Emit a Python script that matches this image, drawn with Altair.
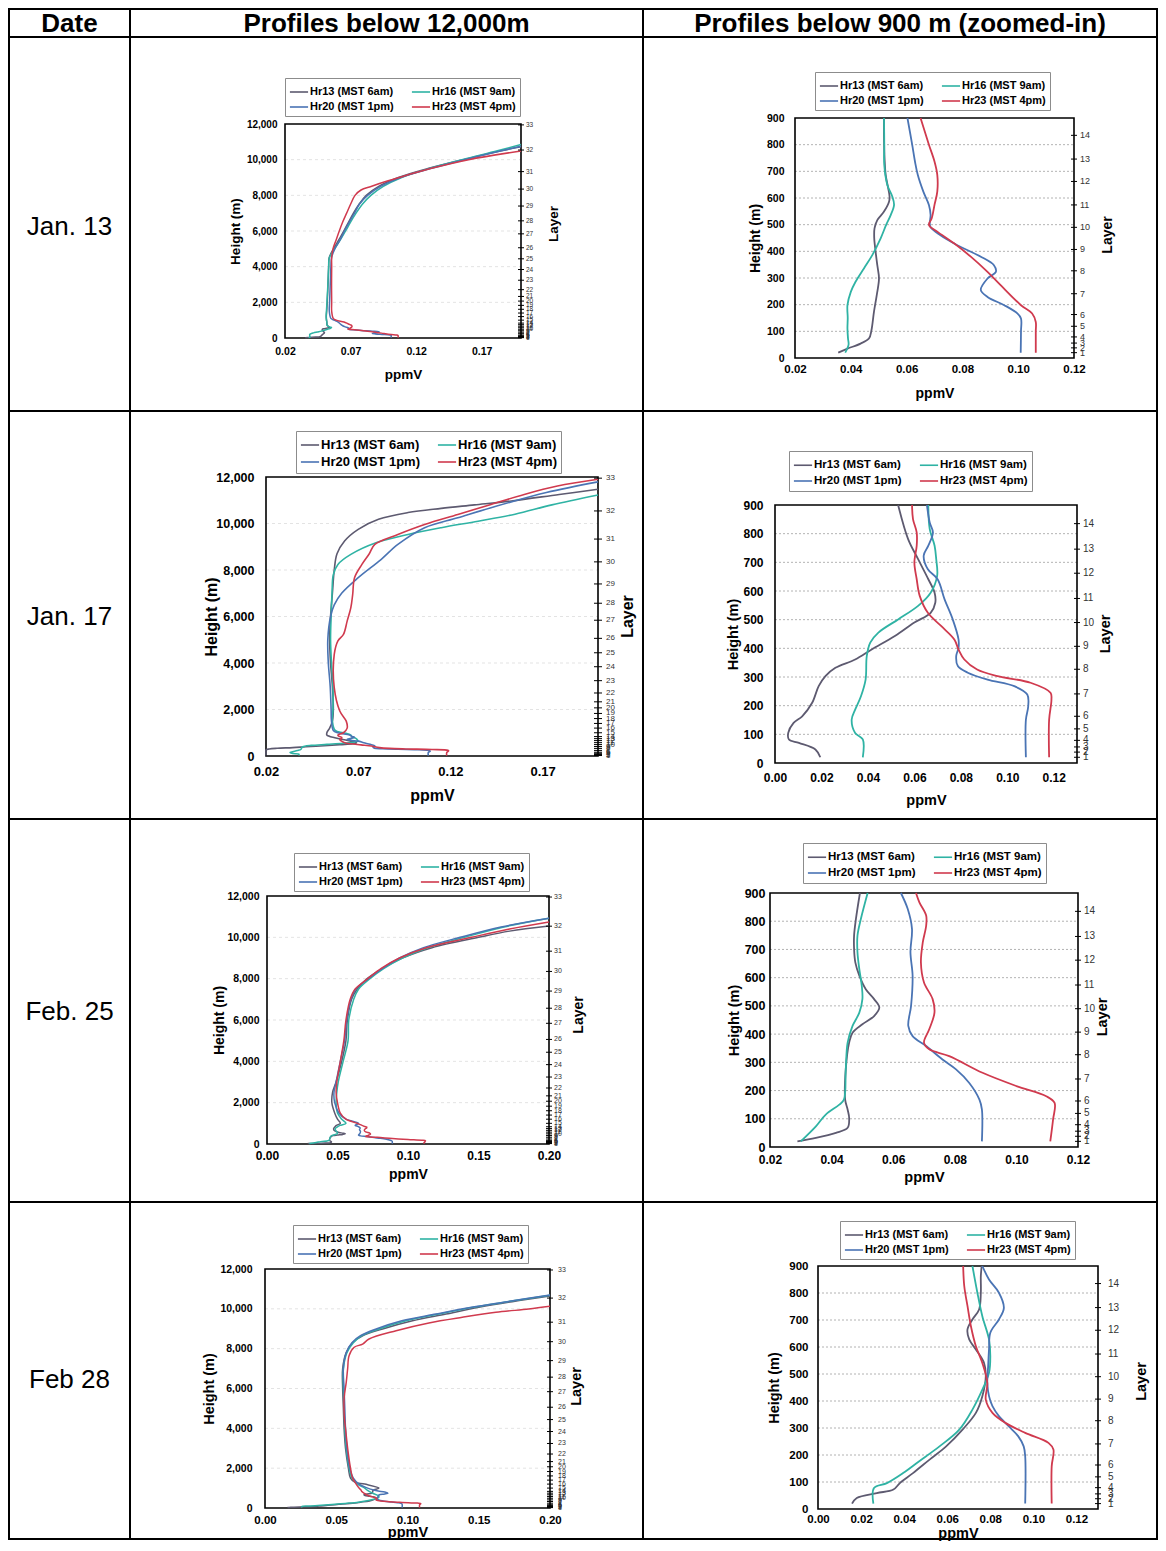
import altair as alt
import pandas as pd

FONT = "Liberation Sans"

SERIES = ["Hr13 (MST 6am)", "Hr16 (MST 9am)", "Hr20 (MST 1pm)", "Hr23 (MST 4pm)"]
COLORS = ["#5d5a70", "#2fb3a4", "#4a74b4", "#d03a4e"]

HEADERS = ["Date", "Profiles below 12,000m", "Profiles below 900 m (zoomed-in)"]
DATES = ["Jan. 13", "Jan. 17", "Feb. 25", "Feb 28"]

LEFT_Y_TICKS = [0, 2000, 4000, 6000, 8000, 10000, 12000]
LEFT_GRID = [2000, 4000, 6000, 8000, 10000]
RIGHT_Y_TICKS = [0, 100, 200, 300, 400, 500, 600, 700, 800, 900]
RIGHT_GRID = [100, 200, 300, 400, 500, 600, 700, 800]
X_TICKS_A = [0.02, 0.07, 0.12, 0.17]
X_TICKS_B = [0.02, 0.04, 0.06, 0.08, 0.10, 0.12]
X_TICKS_C = [0.00, 0.02, 0.04, 0.06, 0.08, 0.10, 0.12]
X_TICKS_D = [0.00, 0.05, 0.10, 0.15, 0.20]

LAYER_NUM = [1, 2, 3, 4, 5, 6, 7, 8, 9, 10, 11, 12, 13, 14, 15, 16, 17, 18, 19, 20,
             21, 22, 23, 24, 25, 26, 27, 28, 29, 30, 31, 32, 33]
LAYER_H = [20, 38, 56, 79, 119, 163, 241, 327, 407, 490, 574, 662, 746, 835, 1000, 1200,
           1400, 1610, 1830, 2070, 2330, 2710, 3240, 3840, 4440, 5060, 5840, 6570, 7400,
           8350, 9330, 10540, 11950]

# ---------------- Jan. 13 ----------------
J13_HR13_H = [20, 35, 54, 73, 104, 173, 236, 298, 348, 398, 449, 486, 517, 549, 586, 605, 637, 687, 749, 824,
              900, 1000, 1200, 1500, 2000, 3000, 4000, 4500, 5000, 5500, 6000, 6500, 7000, 7500, 8000, 8500,
              9000, 9500, 10000, 10500, 10720]
J13_HR13_V = [.0355, .0388, .0435, .0465, .0474, .0483, .0493, .0501, .0495, .0489, .0484, .0485, .0495, .0519,
              .0537, .0539, .0534, .0525, .0521, .0519, .0519, .0517, .0515, .0518, .0522, .0528, .0533, .0537,
              .0570, .0610, .0648, .0685, .0722, .0765, .0820, .0915, .1065, .1290, .1560, .1850, .2000]
J13_HR16_H = [20, 50, 73, 110, 150, 198, 248, 286, 336, 386, 449, 500, 536, 574, 605, 649, 724, 800, 900, 1000,
              1200, 1500, 2000, 3000, 4000, 4500, 5000, 5500, 6000, 6500, 7000, 7500, 8000, 8500, 9000, 9500,
              10000, 10500, 10850]
J13_HR16_V = [.0380, .0392, .0390, .0388, .0389, .0388, .0400, .0417, .0447, .0477, .0507, .0527, .0543, .0555,
              .0549, .0531, .0520, .0520, .0519, .0516, .0514, .0516, .0520, .0527, .0533, .0538, .0578, .0622,
              .0662, .0700, .0742, .0790, .0855, .0950, .1090, .1300, .1550, .1820, .2000]
J13_HR20_H = [20, 100, 148, 167, 198, 229, 255, 298, 323, 348, 380, 424, 461, 490, 505, 536, 574, 624, 687, 737,
              800, 900, 1000, 1100, 1500, 2000, 3000, 4000, 4500, 5000, 5500, 6000, 6500, 7000, 7500, 8000, 8500,
              9000, 9500, 10000, 10500, 10750]
J13_HR20_V = [.1009, .1010, .1010, .0997, .0950, .0890, .0866, .0890, .0920, .0913, .0866, .0780, .0720, .0686,
              .0683, .0686, .0680, .0660, .0640, .0630, .0620, .0603, .0575, .0550, .0538, .0540, .0545, .0550,
              .0555, .0580, .0620, .0653, .0690, .0730, .0767, .0830, .0930, .1080, .1310, .1570, .1850, .2000]
J13_HR23_H = [20, 100, 135, 167, 198, 273, 323, 380, 430, 474, 499, 524, 574, 624, 687, 737, 800, 900, 1000,
              1100, 1500, 2000, 3000, 4000, 4500, 5000, 5500, 6000, 6500, 7000, 7500, 8000, 8300, 8500, 8800,
              9000, 9500, 10000, 10490]
J13_HR23_V = [.1063, .1063, .1063, .1050, .1010, .0937, .0890, .0830, .0770, .0710, .0680, .0690, .0700, .0710,
              .0710, .0700, .0680, .0650, .0590, .0568, .0556, .0556, .0555, .0556, .0556, .0566, .0590, .0614,
              .0640, .0670, .0700, .0734, .0780, .0856, .0980, .1070, .1310, .1600, .2000]

# ---------------- Jan. 17 ----------------
J17_HR13_H = [20, 47, 70, 82, 105, 140, 163, 210, 268, 303, 332, 361, 396, 443, 490, 524, 559, 594, 641, 711,
              781, 900, 1000, 1200, 1500, 2000, 3000, 4000, 5000, 6000, 7000, 8000, 8700, 9250, 9750, 10180,
              10470, 10650, 10800, 10970, 11250, 11470]
J17_HR13_V = [.0195, .0174, .0103, .0060, .0057, .0080, .0117, .0160, .0188, .0217, .0260, .0345, .0416, .0516,
              .0600, .0670, .0690, .0687, .0660, .0616, .0573, .0530, .0530, .0545, .0560, .0565, .0560, .0550,
              .0545, .0550, .0560, .0570, .0585, .0626, .0700, .0810, .0970, .1150, .1330, .1530, .1790, .2000]
J17_HR16_H = [20, 82, 105, 151, 186, 233, 291, 373, 420, 455, 501, 548, 594, 653, 711, 758, 816, 900, 1000, 1100,
              1500, 2000, 3000, 4000, 5000, 6000, 7000, 7800, 8240, 8670, 9180, 9530, 9820, 10100, 10400, 10800,
              11225]
J17_HR16_V = [.0378, .0378, .0345, .0330, .0345, .0370, .0390, .0395, .0410, .0445, .0530, .0616, .0670, .0698,
              .0694, .0687, .0666, .0660, .0620, .0575, .0560, .0563, .0563, .0555, .0550, .0553, .0558, .0565,
              .0590, .0660, .0800, .0970, .1150, .1350, .1550, .1750, .2000]
J17_HR20_H = [20, 151, 198, 239, 268, 291, 315, 338, 373, 402, 431, 501, 571, 641, 676, 723, 758, 804, 839, 900,
              1000, 1100, 1500, 2000, 3000, 4000, 5000, 6000, 6500, 7000, 7670, 8460, 9100, 9820, 10250, 10680,
              11330, 11790]
J17_HR20_V = [.1080, .1080, .1090, .1086, .1030, .0915, .0830, .0787, .0780, .0790, .0790, .0765, .0730, .0700,
              .0658, .0640, .0660, .0680, .0666, .0654, .0590, .0565, .0555, .0553, .0548, .0538, .0535, .0550,
              .0570, .0610, .0700, .0825, .0915, .1060, .1240, .1420, .1720, .2000]
J17_HR23_H = [20, 151, 221, 245, 280, 303, 326, 361, 396, 431, 478, 524, 583, 641, 699, 758, 804, 851, 900, 1000,
              1200, 1500, 1935, 2940, 4370, 4950, 5230, 5800, 6380, 6950, 7670, 8240, 8700, 9100, 9530, 9960,
              10390, 10820, 11250, 11610, 11900]
J17_HR23_V = [.1180, .1180, .1190, .1186, .1100, .0958, .0870, .0815, .0790, .0772, .0715, .0658, .0623, .0610,
              .0600, .0610, .0610, .0594, .0590, .0620, .0640, .0635, .0600, .0570, .0570, .0590, .0620, .0640,
              .0660, .0670, .0680, .0720, .0760, .0790, .0915, .1060, .1240, .1420, .1600, .1780, .2000]

# ---------------- Feb. 25 ----------------
F25_HR13_H = [20, 32, 50, 68, 103, 133, 168, 275, 370, 405, 435, 464, 494, 524, 559, 607, 654, 701, 749, 808,
              900, 1000, 1200, 1500, 2000, 2500, 3000, 4000, 5000, 6000, 7000, 7500, 8000, 8500, 9000, 9500,
              10000, 10300, 10550]
F25_HR13_V = [.0289, .0349, .0414, .0452, .0457, .0452, .0444, .0446, .0457, .0468, .0500, .0538, .0555, .0538,
              .0511, .0490, .0477, .0473, .0473, .0479, .0492, .0520, .0500, .0480, .0460, .0465, .0490, .0530,
              .0560, .0570, .0600, .0640, .0710, .0820, .0960, .1170, .1500, .1720, .2000]
F25_HR16_H = [20, 73, 115, 150, 168, 275, 370, 429, 476, 524, 571, 630, 690, 749, 808, 900, 1000, 1200, 1500,
              2000, 2500, 3000, 4000, 5000, 6000, 7000, 7500, 8000, 8500, 9000, 9500, 10000, 10500, 10920]
F25_HR16_V = [.0300, .0349, .0381, .0425, .0440, .0446, .0452, .0468, .0490, .0500, .0498, .0490, .0484, .0484,
              .0495, .0517, .0560, .0530, .0500, .0490, .0495, .0505, .0540, .0575, .0580, .0615, .0650, .0730,
              .0830, .0960, .1140, .1400, .1680, .2000]
F25_HR20_H = [20, 133, 168, 227, 275, 310, 358, 393, 429, 500, 607, 690, 773, 844, 900, 1000, 1200, 1500, 2000,
              2500, 3000, 4000, 5000, 6000, 7000, 7500, 8000, 8500, 9000, 9500, 10000, 10500, 10920]
F25_HR20_V = [.0888, .0888, .0880, .0847, .0804, .0760, .0707, .0663, .0649, .0658, .0663, .0656, .0661, .0647,
              .0625, .0650, .0560, .0510, .0480, .0475, .0490, .0520, .0550, .0565, .0595, .0630, .0720, .0820,
              .0940, .1110, .1370, .1660, .2000]
F25_HR23_H = [20, 97, 156, 180, 216, 263, 322, 346, 370, 417, 476, 524, 583, 654, 725, 784, 820, 867, 900, 1000,
              1200, 1500, 2000, 2500, 3000, 4000, 5000, 6000, 7000, 7500, 8000, 8500, 9000, 9500, 10000, 10400,
              10740]
F25_HR23_V = [.1110, .1119, .1124, .1097, .1000, .0890, .0782, .0717, .0700, .0717, .0734, .0728, .0700, .0690,
              .0696, .0707, .0707, .0685, .0674, .0640, .0560, .0520, .0500, .0490, .0495, .0520, .0545, .0560,
              .0590, .0625, .0715, .0810, .0940, .1130, .1450, .1720, .2000]

# ---------------- Feb 28 ----------------
F28_HR13_H = [20, 41, 59, 72, 96, 133, 183, 232, 294, 356, 418, 492, 541, 591, 628, 665, 702, 739, 801, 863,
              900, 1000, 1200, 1300, 1500, 2000, 3000, 4000, 5000, 6000, 7000, 7800, 8300, 8650, 8990, 9400,
              9740, 10075, 10360, 10640]
F28_HR13_V = [.0158, .0180, .0273, .0350, .0380, .0441, .0518, .0595, .0671, .0733, .0763, .0779, .0771, .0733,
              .0702, .0694, .0717, .0748, .0756, .0756, .0760, .0800, .0700, .0630, .0600, .0585, .0565, .0555,
              .0550, .0545, .0545, .0570, .0614, .0685, .0825, .1035, .1270, .1500, .1735, .2000]
F28_HR16_H = [20, 78, 96, 133, 177, 232, 294, 368, 442, 504, 566, 628, 714, 801, 900, 1000, 1200, 1500, 2000,
              3000, 4000, 5000, 6000, 7000, 7800, 8300, 8650, 8990, 9400, 9740, 10075, 10360, 10680]
F28_HR16_V = [.0257, .0260, .0320, .0395, .0470, .0564, .0656, .0717, .0763, .0794, .0800, .0794, .0763, .0740,
              .0717, .0700, .0650, .0610, .0590, .0570, .0560, .0555, .0550, .0550, .0575, .0620, .0680, .0800,
              .0990, .1220, .1460, .1700, .2000]
F28_HR20_H = [20, 195, 232, 269, 306, 344, 381, 418, 467, 529, 591, 653, 702, 745, 801, 850, 900, 1000, 1200,
              1500, 2000, 3000, 4000, 5000, 6000, 7000, 7800, 8300, 8650, 8990, 9400, 9740, 10075, 10360, 10700]
F28_HR20_V = [.0962, .0962, .0955, .0930, .0886, .0840, .0810, .0794, .0786, .0790, .0794, .0800, .0840, .0863,
              .0840, .0794, .0763, .0720, .0660, .0620, .0595, .0575, .0565, .0560, .0555, .0550, .0570, .0610,
              .0670, .0780, .0960, .1200, .1450, .1700, .2000]
F28_HR23_H = [20, 158, 220, 245, 282, 319, 356, 405, 467, 541, 603, 677, 752, 826, 900, 1000, 1200, 1500, 2000,
              3000, 4000, 4640, 5500, 6310, 7000, 7650, 8070, 8230, 8485, 8900, 9290, 9575, 9825, 9990, 10125]
F28_HR23_V = [.1085, .1085, .1093, .1070, .0962, .0870, .0810, .0779, .0786, .0763, .0733, .0710, .0694, .0679,
              .0674, .0660, .0640, .0615, .0600, .0580, .0565, .0556, .0555, .0570, .0580, .0590, .0626, .0685,
              .0730, .0920, .1150, .1385, .1620, .1850, .2000]

PROFILES = {
    "Jan. 13": [(J13_HR13_H, J13_HR13_V), (J13_HR16_H, J13_HR16_V), (J13_HR20_H, J13_HR20_V), (J13_HR23_H, J13_HR23_V)],
    "Jan. 17": [(J17_HR13_H, J17_HR13_V), (J17_HR16_H, J17_HR16_V), (J17_HR20_H, J17_HR20_V), (J17_HR23_H, J17_HR23_V)],
    "Feb. 25": [(F25_HR13_H, F25_HR13_V), (F25_HR16_H, F25_HR16_V), (F25_HR20_H, F25_HR20_V), (F25_HR23_H, F25_HR23_V)],
    "Feb 28": [(F28_HR13_H, F28_HR13_V), (F28_HR16_H, F28_HR16_V), (F28_HR20_H, F28_HR20_V), (F28_HR23_H, F28_HR23_V)],
}
for _d, _lst in PROFILES.items():
    for _h, _v in _lst:
        assert len(_h) == len(_v), (_d, len(_h), len(_v))

# ---------------- layout (table cells and plot boxes, in pixels) ----------------
COL_W = [121, 513, 514]
COL_SHIFT = [0, 2, 5]
ROW_H = [28, 374, 408, 383, 337]
DATE_BASE = [198, 214, 201, 186]

PLOTS = [
    dict(date="Jan. 13", hmax=12000, box=(153, 389, 87, 301), xdom=(0.02, 0.20), xticks=X_TICKS_A,
         ylab=10, xlab=10.5, ypad=8, xpad=8, tsize=13.5, ytx=-46, xty=40, lay_dy=37, lay_dx=7,
         lay_lab=6.5, lay_lab_dx=5, leg=(153, 41), leg_font=11, sw=1.5),
    dict(date="Jan. 13", hmax=900, box=(147, 426, 81, 321), xdom=(0.02, 0.12), xticks=X_TICKS_B,
         ylab=10.5, xlab=11.5, ypad=11, xpad=5, tsize=14, ytx=-36, xty=39, lay_dy=38, lay_dx=3,
         lay_lab=9, lay_lab_dx=6, leg=(167, 35), leg_font=11, sw=1.8),
    dict(date="Jan. 17", hmax=12000, box=(134, 466, 66, 345), xdom=(0.02, 0.20), xticks=X_TICKS_A,
         ylab=12.5, xlab=13, ypad=12, xpad=9, tsize=16, ytx=-50, xty=44, lay_dy=35, lay_dx=0,
         lay_lab=8, lay_lab_dx=8, leg=(164, 20), leg_font=13, sw=1.6),
    dict(date="Jan. 17", hmax=900, box=(127, 429, 94, 352), xdom=(0.0, 0.13), xticks=X_TICKS_C,
         ylab=12, xlab=12, ypad=12, xpad=9, tsize=14.5, ytx=-38, xty=41, lay_dy=33, lay_dx=0,
         lay_lab=10, lay_lab_dx=6, leg=(141, 40), leg_font=11.5, sw=1.8),
    dict(date="Feb. 25", hmax=12000, box=(135, 417, 77, 325), xdom=(0.0, 0.20), xticks=X_TICKS_D,
         ylab=10.5, xlab=12, ypad=8, xpad=6, tsize=14, ytx=-44, xty=34, lay_dy=34, lay_dx=5,
         lay_lab=7, lay_lab_dx=5, leg=(162, 34), leg_font=11, sw=1.5),
    dict(date="Feb. 25", hmax=900, box=(122, 430, 74, 328), xdom=(0.02, 0.12), xticks=X_TICKS_B,
         ylab=12.5, xlab=12, ypad=5, xpad=7, tsize=14.5, ytx=-32, xty=34, lay_dy=29, lay_dx=3,
         lay_lab=10, lay_lab_dx=6, leg=(155, 24), leg_font=11.5, sw=1.8),
    dict(date="Feb 28", hmax=12000, box=(133, 418, 67, 306), xdom=(0.0, 0.20), xticks=X_TICKS_D,
         ylab=10.5, xlab=11.5, ypad=13, xpad=6, tsize=14.5, ytx=-52, xty=28, lay_dy=31, lay_dx=2,
         lay_lab=7, lay_lab_dx=8, leg=(161, 23), leg_font=11, sw=1.5),
    dict(date="Feb 28", hmax=900, box=(170, 450, 64, 307), xdom=(0.0, 0.13), xticks=X_TICKS_C,
         ylab=11.5, xlab=11.5, ypad=10, xpad=4, tsize=14.5, ytx=-40, xty=28, lay_dy=48, lay_dx=6,
         lay_lab=10, lay_lab_dx=10, leg=(192, 19), leg_font=11, sw=1.8),
]

ONE = pd.DataFrame({"a": [0]})


def profile_df(date, hmax):
    rows = []
    for name, (hs, vs) in zip(SERIES, PROFILES[date]):
        for h, v in zip(hs, vs):
            if h <= hmax:
                rows.append({"series": name, "h": h, "v": v})
    return pd.DataFrame(rows)


def plot_cell(cfg, w, h, shift):
    x0, x1, y0, y1 = cfg["box"]
    x0, x1 = x0 + shift, x1 + shift
    xmin, xmax = cfg["xdom"]
    hmax = cfg["hmax"]
    left = hmax > 900
    xs = alt.Scale(domain=[xmin, xmax], range=[x0, x1], clamp=True, nice=False, zero=False)
    ys = alt.Scale(domain=[0, hmax], range=[y1, y0], nice=False, zero=False)

    y_axis = alt.Axis(
        orient="left", offset=-x0, values=LEFT_Y_TICKS if left else RIGHT_Y_TICKS, format=",d",
        grid=False, domain=False, ticks=False, tickSize=0, labelPadding=cfg["ypad"],
        labelFont=FONT, labelFontSize=cfg["ylab"], labelFontWeight="bold", labelColor="black",
        labelOverlap=False, labelFlush=False, labelBound=False,
        title="Height (m)", titleFont=FONT, titleFontSize=cfg["tsize"], titleFontWeight="bold",
        titleColor="black", titleAngle=270, titleAlign="center", titleBaseline="alphabetic",
        titleX=cfg["ytx"], titleY=(y0 + y1) / 2)
    x_axis = alt.Axis(
        orient="bottom", offset=y1 - h, values=cfg["xticks"], format=".2f",
        grid=False, domain=False, ticks=False, tickSize=0, labelPadding=cfg["xpad"],
        labelFont=FONT, labelFontSize=cfg["xlab"], labelFontWeight="bold", labelColor="black",
        labelOverlap=False, labelFlush=False, labelBound=False,
        title="ppmV", titleFont=FONT, titleFontSize=cfg["tsize"], titleFontWeight="bold",
        titleColor="black", titleAlign="center", titleBaseline="alphabetic",
        titleX=(x0 + x1) / 2, titleY=cfg["xty"])
    lx, ly = cfg["leg"]
    legend = alt.Legend(
        orient="none", legendX=lx + shift, legendY=ly, columns=2, direction="horizontal", title=None,
        symbolType="stroke", symbolSize=330, symbolStrokeWidth=1.6,
        labelFont=FONT, labelFontSize=cfg["leg_font"], labelFontWeight="bold", labelColor="black",
        labelOffset=1, labelLimit=400, padding=4, strokeColor="#8c8c8c", fillColor="white",
        rowPadding=0, columnPadding=14)

    def xd(v):
        return alt.XDatum(v, scale=xs, axis=x_axis)

    def yd(v):
        return alt.YDatum(v, scale=ys, axis=y_axis)

    def yf():
        return alt.Y("h:Q", scale=ys, axis=y_axis)

    grid = alt.Chart(pd.DataFrame({"h": LEFT_GRID if left else RIGHT_GRID})).mark_rule(
        stroke="#dcdcdc" if left else "#a0a0a0", strokeWidth=0.8,
        strokeDash=[3, 3] if left else [2, 2]).encode(
        y=yf(), x=xd(xmin), x2=alt.X2Datum(xmax))

    frame = alt.Chart(ONE).mark_rect(filled=False, stroke="black", strokeWidth=1.6).encode(
        x=xd(xmin), x2=alt.X2Datum(xmax), y=yd(0), y2=alt.Y2Datum(hmax))

    lines = alt.Chart(profile_df(cfg["date"], hmax)).mark_line(
        interpolate="catmull-rom", strokeWidth=cfg["sw"]).encode(
        x=alt.X("v:Q", scale=xs, axis=x_axis),
        y=yf(),
        color=alt.Color("series:N", scale=alt.Scale(domain=SERIES, range=COLORS), legend=legend),
        order=alt.Order("h:Q"))

    lay_df = pd.DataFrame({"h": LAYER_H, "n": LAYER_NUM})
    lay_df = lay_df[lay_df["h"] <= hmax]
    tk = 4 if cfg["leg_font"] > 12 else 3
    lay_ticks = alt.Chart(lay_df).mark_rule(color="black", strokeWidth=1, xOffset=-tk, x2Offset=tk).encode(
        y=yf(), x=xd(xmax), x2=alt.X2Datum(xmax))
    lay_labels = alt.Chart(lay_df).mark_text(
        align="left", baseline="middle", dx=cfg["lay_lab_dx"], font=FONT,
        fontSize=cfg["lay_lab"], color="#333333").encode(
        y=yf(), x=xd(xmax), text="n:N")
    lay_title = alt.Chart(ONE).mark_text(
        text="Layer", angle=270, align="center", baseline="alphabetic", dy=cfg["lay_dy"],
        dx=cfg["lay_dx"], font=FONT, fontSize=cfg["tsize"], fontWeight="bold", color="black").encode(
        x=xd(xmax), y=yd(hmax / 2))

    return alt.layer(grid, frame, lines, lay_ticks, lay_labels, lay_title).properties(width=w, height=h)


def text_cell(txt, w, h, y, size, weight, baseline="alphabetic"):
    return alt.Chart(pd.DataFrame({"t": [txt]})).mark_text(
        font=FONT, fontSize=size, fontWeight=weight, color="black",
        align="center", baseline=baseline).encode(
        text="t:N", x=alt.value(w / 2), y=alt.value(y)).properties(width=w, height=h)


cells = [text_cell(HEADERS[i], COL_W[i], ROW_H[0], 1.5, 26, "bold", "top") for i in range(3)]
for r, date in enumerate(DATES):
    hh = ROW_H[r + 1]
    cells.append(text_cell(date, COL_W[0], hh, DATE_BASE[r], 26, "normal"))
    cells.append(plot_cell(PLOTS[2 * r], COL_W[1], hh, COL_SHIFT[1]))
    cells.append(plot_cell(PLOTS[2 * r + 1], COL_W[2], hh, COL_SHIFT[2]))

chart = alt.concat(*cells, columns=3, spacing=0, bounds="flush", align="each").resolve_scale(
    x="independent", y="independent", color="independent").resolve_legend(
    color="independent").properties(padding=0).configure_view(
    stroke="black", strokeWidth=2)

chart.save("out.html", embed_options={"renderer": "svg", "actions": False})
